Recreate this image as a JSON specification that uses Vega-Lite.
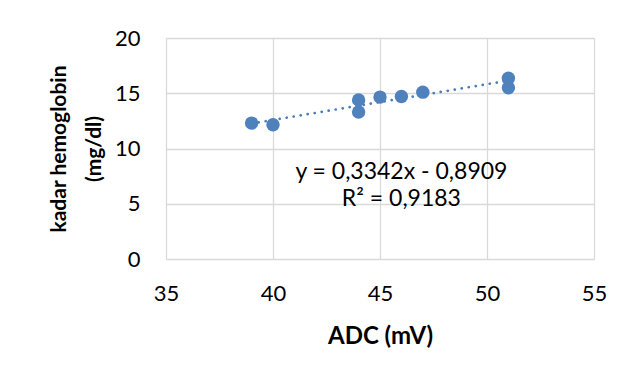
{
  "$schema": "https://vega.github.io/schema/vega-lite/v6.json",
  "width": 428,
  "height": 221,
  "autosize": {"type": "none"},
  "padding": {"left": 166, "top": 38, "right": 34, "bottom": 121},
  "background": "white",
  "config": {
    "view": {"stroke": null},
    "font": "Lato",
    "axis": {
      "labelFont": "Lato",
      "titleFont": "Lato",
      "labelFontSize": 22,
      "labelColor": "#000000",
      "titleColor": "#000000",
      "gridColor": "#d9d9d9",
      "gridWidth": 1.3,
      "domain": false,
      "ticks": false
    }
  },
  "data": {
    "values": [
      {"adc": 39, "hb": 12.3},
      {"adc": 40, "hb": 12.15},
      {"adc": 44, "hb": 14.4},
      {"adc": 44, "hb": 13.3},
      {"adc": 45, "hb": 14.65},
      {"adc": 46, "hb": 14.7},
      {"adc": 47, "hb": 15.1},
      {"adc": 51, "hb": 16.35},
      {"adc": 51, "hb": 15.5}
    ]
  },
  "layer": [
    {
      "transform": [{"regression": "hb", "on": "adc"}],
      "mark": {"type": "line", "color": "#4a7ebb", "strokeWidth": 2.7, "strokeDash": [0.1, 7], "strokeCap": "round"},
      "encoding": {
        "x": {"field": "adc", "type": "quantitative"},
        "y": {"field": "hb", "type": "quantitative"}
      }
    },
    {
      "mark": {"type": "circle", "color": "#4f81bd", "opacity": 1, "size": 180},
      "encoding": {
        "x": {
          "field": "adc", "type": "quantitative",
          "scale": {"domain": [35, 55], "nice": false, "zero": false},
          "axis": {"values": [35, 40, 45, 50, 55], "title": "ADC (mV)", "titleFontSize": 24, "labelPadding": 24, "titlePadding": 20, "labelFlush": false}
        },
        "y": {
          "field": "hb", "type": "quantitative",
          "scale": {"domain": [0, 20], "nice": false},
          "axis": {"values": [0, 5, 10, 15, 20], "title": ["kadar hemoglobin", "(mg/dl)"], "titleFontSize": 21, "labelPadding": 26, "titlePadding": 10, "titleLineHeight": 35}
        }
      }
    },
    {
      "data": {"values": [
        {"adc": 46.0, "hb": 7.85, "label": "y = 0,3342x - 0,8909"},
        {"adc": 46.0, "hb": 5.4, "label": "R² = 0,9183"}
      ]},
      "mark": {"type": "text", "fontSize": 23, "font": "Lato", "color": "#000000", "align": "center", "baseline": "middle"},
      "encoding": {
        "x": {"field": "adc", "type": "quantitative"},
        "y": {"field": "hb", "type": "quantitative"},
        "text": {"field": "label"}
      }
    }
  ]
}
